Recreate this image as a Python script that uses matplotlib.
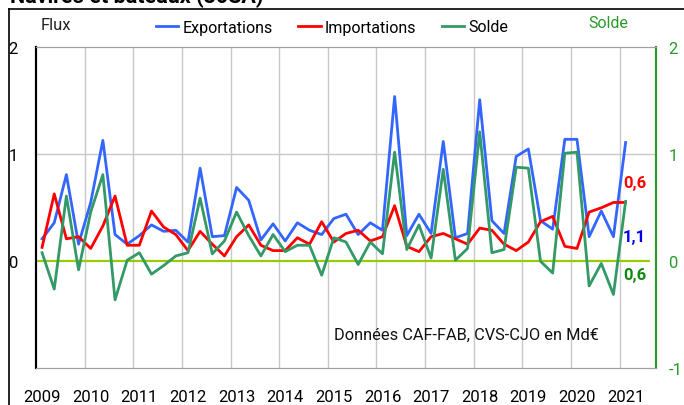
import numpy as np
import matplotlib
matplotlib.use("Agg")
import matplotlib.pyplot as plt
from matplotlib.lines import Line2D

plt.rcParams['font.family'] = ['Roboto', 'DejaVu Sans']

years = [2009, 2010, 2011, 2012, 2013, 2014, 2015, 2016, 2017, 2018, 2019, 2020, 2021]
year_labels = [str(y) for y in years]

exportations = [0.21, 0.36, 0.81, 0.16, 0.55, 1.13, 0.25, 0.16, 0.24, 0.34, 0.28, 0.29, 0.18,
                0.87, 0.23, 0.24, 0.69, 0.57, 0.20, 0.35, 0.19, 0.36, 0.29, 0.25, 0.40,
                0.44, 0.25, 0.36, 0.29, 1.54, 0.24, 0.44, 0.26, 1.12, 0.22, 0.26, 1.51,
                0.38, 0.26, 0.98, 1.05, 0.38, 0.30, 1.14, 1.14, 0.23, 0.47, 0.23, 1.11]
importations = [0.13, 0.63, 0.21, 0.23, 0.12, 0.33, 0.61, 0.15, 0.15, 0.47, 0.32, 0.25, 0.10,
                0.28, 0.16, 0.05, 0.23, 0.34, 0.15, 0.10, 0.10, 0.22, 0.16, 0.37, 0.18,
                0.26, 0.29, 0.19, 0.23, 0.52, 0.14, 0.09, 0.23, 0.26, 0.21, 0.16, 0.31,
                0.29, 0.16, 0.10, 0.18, 0.37, 0.42, 0.14, 0.12, 0.46, 0.50, 0.55, 0.55]
solde = [0.08, -0.26, 0.61, -0.08, 0.46, 0.81, -0.36, 0.01, 0.08, -0.12, -0.04, 0.05, 0.08,
         0.59, 0.07, 0.19, 0.46, 0.24, 0.05, 0.25, 0.09, 0.15, 0.15, -0.13, 0.22,
         0.18, -0.03, 0.18, 0.07, 1.02, 0.11, 0.34, 0.03, 0.86, 0.01, 0.12, 1.21,
         0.08, 0.11, 0.88, 0.87, 0.00, -0.11, 1.01, 1.02, -0.23, -0.02, -0.31, 0.56]
last_labels = {"imp": "0,6", "exp": "1,1", "solde": "0,6"}

BLUE = '#3366ff'
RED = '#ff0000'
GREEN = '#339966'
AXGREEN = '#2a9a2a'
GRID = '#c8c8c8'

fig = plt.figure(figsize=(6.84, 4.06), dpi=100)
ax = fig.add_axes([36/684, 1-369.3/406, (656-36)/684, (369.3-48.3)/406])
ax2 = ax.twinx()

x = np.arange(len(exportations))
ax.set_xlim(-0.5, 50.5)
ax.set_ylim(-1, 2)
ax2.set_ylim(-1, 2)

# grid
for gx in np.arange(3.5, 48, 4):
    ax.axvline(gx, color=GRID, lw=1.0, zorder=0)
ax.axhline(1, color=GRID, lw=1.0, zorder=0)
ax.plot([-0.5, 50.0], [0, 0], color='#99cc00', lw=1.6, zorder=1, solid_capstyle='butt')

ax.plot(x, exportations, color=BLUE, lw=2.0, zorder=3, label='Exportations')
ax.plot(x, importations, color=RED, lw=2.0, zorder=4, label='Importations')
ax2.plot(x, solde, color=GREEN, lw=2.0, zorder=3, label='Solde')

# ticks
ax.set_xticks(np.arange(0, 49, 4))
ax.set_xticklabels(year_labels, fontsize=12)
ax.tick_params(axis='x', length=0, pad=15)
ax.set_yticks([0, 1, 2])
ax.set_yticklabels(['0', '1', '2'], fontsize=12)
ax.tick_params(axis='y', length=0, pad=13)
ax2.set_yticks([-1, 0, 1, 2])
ax2.set_yticklabels(['-1', '0', '1', '2'], fontsize=12, color=AXGREEN)
ax2.tick_params(axis='y', length=0, pad=9, colors=AXGREEN)

for a in (ax, ax2):
    a.spines['top'].set_color('#a0a0a0')
    a.spines['bottom'].set_color('#a0a0a0')
    a.spines['left'].set_color('black')
    a.spines['left'].set_linewidth(1.5)
    a.spines['right'].set_color(AXGREEN)
    a.spines['right'].set_linewidth(1.5)

# end labels
ax.text(47.8, 0.74, last_labels["imp"], color=RED, fontsize=12, fontweight='bold', va='center', ha='left')
ax.text(47.8, 0.23, last_labels["exp"], color='#0000ee', fontsize=12, fontweight='bold', va='center', ha='left')
ax.text(47.8, -0.12, last_labels["solde"], color='#118811', fontsize=12, fontweight='bold', va='center', ha='left')

ax.text(0.6935, 0.107, 'Données CAF-FAB, CVS-CJO en Md€', transform=ax.transAxes,
        fontsize=11.8, ha='center', va='center', color='#111111')

# header texts
fig.text(41/684, 1-25/406, 'Flux', fontsize=12, ha='left', va='center', color='#222222')
fig.text(608/684, 1-24/406, 'Solde', fontsize=11.5, ha='center', va='center', color=AXGREEN)
fig.text(10/684, 1-3/406, 'Navires et bateaux (30SA)', fontsize=15.5, fontweight='bold',
         ha='left', va='baseline', color='black')

handles = [Line2D([], [], color=BLUE, lw=2), Line2D([], [], color=RED, lw=2), Line2D([], [], color=GREEN, lw=2)]
fig.legend(handles, ['Exportations', 'Importations', 'Solde'], loc='center', ncol=3,
           bbox_to_anchor=(332/684, 1-28/406), frameon=False, fontsize=11.5,
           handlelength=1.4, handletextpad=0.25, columnspacing=1.6)

# outer frame
fig.add_artist(Line2D([9/684, 9/684], [0, 1-10/406], color='black', lw=1.2, transform=fig.transFigure))
fig.add_artist(Line2D([9/684, 1], [1-10/406, 1-10/406], color='black', lw=1.2, transform=fig.transFigure))

fig.savefig('out.png', dpi=100)
